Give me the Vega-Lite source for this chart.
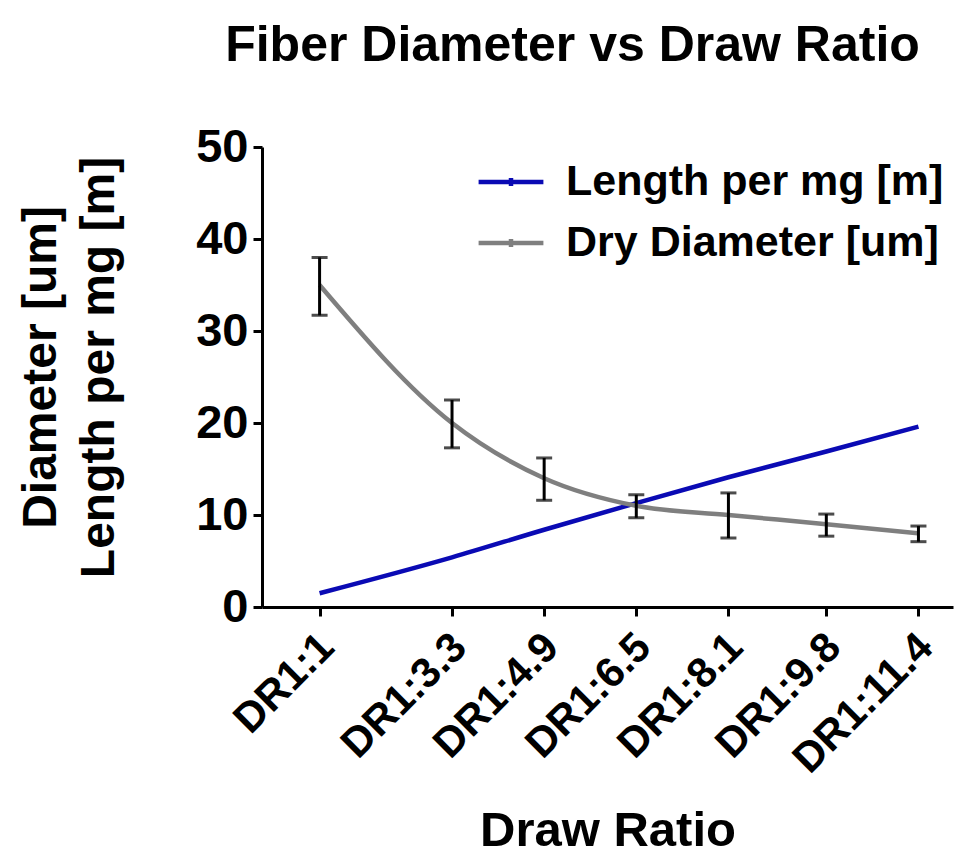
{
  "$schema": "https://vega.github.io/schema/vega-lite/v6.json",
  "autosize": "none",
  "width": 691,
  "height": 460,
  "padding": {"left": 262, "top": 147, "right": 5, "bottom": 248},
  "background": "white",
  "title": {
    "text": "Fiber Diameter vs Draw Ratio",
    "font": "Liberation Sans",
    "fontWeight": "bold",
    "fontSize": 50,
    "color": "black",
    "anchor": "middle",
    "dx": -35,
    "offset": 52
  },
  "config": {
    "view": {"stroke": null},
    "font": "Liberation Sans",
    "axis": {
      "grid": false,
      "domainColor": "black",
      "domainWidth": 3,
      "tickColor": "black",
      "tickWidth": 3,
      "tickSize": 9,
      "labelColor": "black",
      "labelFont": "Liberation Sans",
      "labelFontWeight": "bold",
      "labelOverlap": false,
      "titleColor": "black",
      "titleFont": "Liberation Sans",
      "titleFontWeight": "bold"
    }
  },
  "data": {
    "values": [
      {"dr": 1, "series": "Length per mg [m]", "value": 1.5},
      {"dr": 3.3, "series": "Length per mg [m]", "value": 5.4},
      {"dr": 4.9, "series": "Length per mg [m]", "value": 8.4},
      {"dr": 6.5, "series": "Length per mg [m]", "value": 11.3},
      {"dr": 8.1, "series": "Length per mg [m]", "value": 14.1},
      {"dr": 9.8, "series": "Length per mg [m]", "value": 16.9},
      {"dr": 11.4, "series": "Length per mg [m]", "value": 19.6},
      {"dr": 1, "series": "Dry Diameter [um]", "value": 35, "lo": 31.7, "hi": 38.0},
      {"dr": 3.3, "series": "Dry Diameter [um]", "value": 20, "lo": 17.3, "hi": 22.5},
      {"dr": 4.9, "series": "Dry Diameter [um]", "value": 14, "lo": 11.6, "hi": 16.2},
      {"dr": 6.5, "series": "Dry Diameter [um]", "value": 11, "lo": 9.7, "hi": 12.2},
      {"dr": 8.1, "series": "Dry Diameter [um]", "value": 10, "lo": 7.5, "hi": 12.4},
      {"dr": 9.8, "series": "Dry Diameter [um]", "value": 9, "lo": 7.7, "hi": 10.1},
      {"dr": 11.4, "series": "Dry Diameter [um]", "value": 8, "lo": 7.1, "hi": 8.8}
    ]
  },
  "encoding": {
    "x": {
      "field": "dr",
      "type": "quantitative",
      "scale": {"domain": [0, 12], "nice": false, "zero": false},
      "axis": {
        "title": "Draw Ratio",
        "values": [1, 3.3, 4.9, 6.5, 8.1, 9.8, 11.4],
        "labelExpr": "'DR1:' + datum.value",
        "labelAngle": -45,
        "labelAlign": "right",
        "labelBaseline": "middle",
        "labelFontSize": 42,
        "labelPadding": 24,
        "labelOffset": 7,
        "titleFontSize": 49,
        "titlePadding": 26
      }
    },
    "y": {
      "field": "value",
      "type": "quantitative",
      "scale": {"domain": [0, 50], "nice": false},
      "axis": {
        "title": ["Diameter [um]", "Length per mg [m]"],
        "values": [0, 10, 20, 30, 40, 50],
        "labelFontSize": 47,
        "labelPadding": 5,
        "titleFontSize": 48,
        "titlePadding": 72,
        "titleLineHeight": 58,
        "titleY": 220
      }
    }
  },
  "layer": [
    {
      "mark": {"type": "line", "strokeWidth": 4.5, "interpolate": "monotone"},
      "encoding": {
        "color": {
          "field": "series",
          "type": "nominal",
          "scale": {"domain": ["Length per mg [m]", "Dry Diameter [um]"], "range": ["#0a0ab4", "#7f7f7f"]},
          "legend": {
            "title": null,
            "orient": "none",
            "legendX": 214,
            "legendY": 0,
            "symbolType": "M-1,0H1M0,-0.12V0.12",
            "symbolSize": 4200,
            "symbolStrokeWidth": 4.5,
            "labelFontSize": 43,
            "labelFont": "Liberation Sans",
            "labelFontWeight": "bold",
            "labelColor": "black",
            "labelOffset": 20,
            "rowPadding": 4,
            "labelLimit": 600
          }
        }
      }
    },
    {
      "transform": [{"filter": "datum.lo != null"}],
      "mark": {"type": "rule", "color": "black", "strokeWidth": 3},
      "encoding": {"y": {"field": "lo", "type": "quantitative"}, "y2": {"field": "hi"}}
    },
    {
      "transform": [{"filter": "datum.lo != null"}],
      "mark": {"type": "tick", "color": "black", "orient": "horizontal", "size": 16, "thickness": 3},
      "encoding": {"y": {"field": "lo", "type": "quantitative"}}
    },
    {
      "transform": [{"filter": "datum.lo != null"}],
      "mark": {"type": "tick", "color": "black", "orient": "horizontal", "size": 16, "thickness": 3},
      "encoding": {"y": {"field": "hi", "type": "quantitative"}}
    }
  ]
}
